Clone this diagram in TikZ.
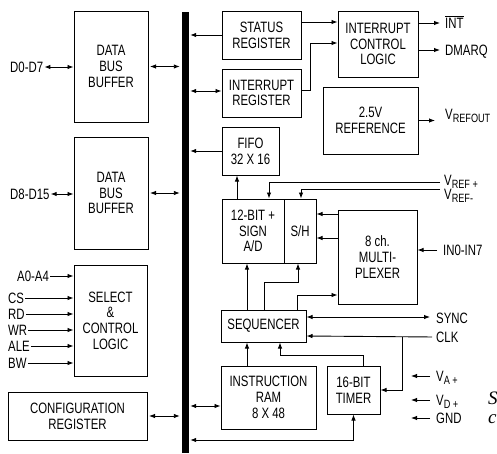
\documentclass[tikz,border=0pt]{standalone}
\usepackage{fontspec}
\setmainfont{Liberation Sans}[FakeStretch=0.76]
\newfontfamily\capfont{Liberation Serif}
\usetikzlibrary{arrows.meta}
\newcommand{\lbl}{\fontsize{15}{15.7}\selectfont}
\newcommand{\sbs}[1]{\raisebox{-0.4ex}{\fontsize{12}{12}\selectfont #1}}
\tikzset{
	blk/.style={draw, line width=1pt, inner sep=0pt, align=center, font=\lbl},
	pin/.style={inner sep=1pt, font=\lbl, text height=10pt, text depth=0pt},
	lnk/.style={line width=0.9pt, >={Latex[length=6pt,width=4.5pt]}},
}
\begin{document}
\begin{tikzpicture}[x=1pt,y=-1pt]
		\useasboundingbox (0,0) rectangle (497,453);
		\fill[white] (0,0) rectangle (497,453);
		% bus
		\node[fill=black, inner sep=0pt, minimum width=7, minimum height=441] (bus) at (185,232.5) {};

		% left side
		\node[blk, minimum width=74, minimum height=111] (bufA) at (111,66.5) {DATA\\BUS\\BUFFER};
		\node[blk, minimum width=74, minimum height=112] (bufB) at (111,193) {DATA\\BUS\\BUFFER};
		\node[blk, minimum width=73, minimum height=111] (sel) at (110.5,320.5) {SELECT\\\&\\CONTROL\\LOGIC};
		\node[blk, minimum width=139, minimum height=48] (cfg) at (77.5,416) {CONFIGURATION\\REGISTER};

		% right side
		\node[blk, minimum width=79, minimum height=48] (stat) at (261.5,35) {STATUS\\REGISTER};
		\node[blk, minimum width=79, minimum height=48] (intreg) at (261.5,93) {INTERRUPT\\REGISTER};
		\node[blk, minimum width=80, minimum height=66] (icl) at (378,44) {INTERRUPT\\CONTROL\\LOGIC};
		\node[blk, minimum width=95, minimum height=67] (ref) at (370.5,120.5) {2.5V\\REFERENCE};
		\node[blk, minimum width=57, minimum height=48] (fifo) at (250.5,151) {FIFO\\32 X 16};
		\node[blk, minimum width=62, minimum height=64] (adc) at (253,231) {12-BIT +\\SIGN\\A/D};
		\node[blk, minimum width=32, minimum height=64] (sh) at (300,231) {S/H};
		\node[blk, minimum width=79, minimum height=94] (mux) at (377.5,257) {8 ch.\\MULTI-\\PLEXER};
		\node[blk, minimum width=85, minimum height=32] (seq) at (263.5,326) {SEQUENCER};
		\node[blk, minimum width=95, minimum height=63] (ram) at (268.5,397.5) {INSTRUCTION\\RAM\\8 X 48};
		\node[blk, minimum width=53, minimum height=48] (timer) at (353.5,390) {16-BIT\\TIMER};

		% pins
		\node[pin, anchor=west] (d07) at (9,67) {D0-D7};
		\node[pin, anchor=west] (d815) at (9,194) {D8-D15};
		\node[pin, anchor=west] (a04) at (16,276) {A0-A4};
		\node[pin, anchor=west] (cs) at (7,298) {CS};
		\node[pin, anchor=west] (rd) at (7,314) {RD};
		\node[pin, anchor=west] (wr) at (7,330) {WR};
		\node[pin, anchor=west] (ale) at (7,346) {ALE};
		\node[pin, anchor=west] (bw) at (7,363) {BW};
		\node[pin, anchor=west] (int) at (444,23) {$\overline{\hbox{\lbl INT}}$};
		\node[pin, anchor=west] (dmarq) at (444,50) {DMARQ};
		\node[pin, anchor=west] (vrefout) at (444,114) {V\sbs{REFOUT}};
		\node[pin, anchor=west] (vrefp) at (443,180) {V\sbs{REF +}};
		\node[pin, anchor=west] (vrefm) at (443,194) {V\sbs{REF-}};
		\node[pin, anchor=west] (in07) at (442,250) {IN0-IN7};
		\node[pin, anchor=west] (sync) at (435,318) {SYNC};
		\node[pin, anchor=west] (clk) at (435,337) {CLK};
		\node[pin, anchor=west] (va) at (435,376) {V\sbs{A +}};
		\node[pin, anchor=west] (vd) at (435,400) {V\sbs{D +}};
		\node[pin, anchor=west] (gnd) at (435,418) {GND};

		% bus links
		\draw[lnk,<->] (d07.east) -- (bufA.west |- d07.east);
		\draw[lnk,<->] (d815.east) -- (bufB.west |- d815.east);
		\draw[lnk,<->,shorten >=1.5,shorten <=1.5] (bufA.east) -- (bufA.east -| bus.west);
		\draw[lnk,<->,shorten >=1.5,shorten <=1.5] (bufB.east) -- (bufB.east -| bus.west);
		\draw[lnk,<->,shorten >=1.5,shorten <=1.5] (cfg.east) -- (cfg.east -| bus.west);
		\draw[lnk,->,shorten >=1.5] (stat.west) -- (stat.west -| bus.east);
		\draw[lnk,<->,shorten <=1.5] (bus.east |- 0,91) -- (intreg.west |- 0,91);
		\draw[lnk,->,shorten >=1.5] (fifo.west) -- (fifo.west -| bus.east);
		\draw[lnk,<->,shorten <=1.5] (bus.east |- 0,406) -- (ram.west |- 0,406);
		\draw[lnk,<->,shorten <=1.5] (bus.east |- 0,440) -| (timer.south);

		% select inputs
		\foreach \n in {a04,cs,rd,wr,ale,bw}
			\draw[lnk,->] (\n.east) -- (sel.west |- \n.east);

		% interrupt path
		\draw[lnk,->] (stat.east |- 0,22) -- (icl.west |- 0,22);
		\draw[lnk,->] (intreg.east |- 0,90) -| (310,43) -- (icl.west |- 0,43);
		\draw[lnk,->,shorten >=4] (icl.east |- int.west) -- (int.west);
		\draw[lnk,->,shorten >=4] (icl.east |- dmarq.west) -- (dmarq.west);
		\draw[lnk,->,shorten >=9] (ref.east) -- (ref.east -| vrefout.west);

		% converter
		\draw[lnk,->] (237,0 |- adc.north) -- (237,0 |- fifo.south);
		\draw[lnk,->,shorten <=3] (vrefp.west |- 0,182) -| (269,0 |- adc.north);
		\draw[lnk,->,shorten <=3] (vrefm.west |- 0,189) -| (301,0 |- sh.north);
		\draw[lnk,->] (mux.west |- 0,214) -- (sh.east |- 0,214);
		\draw[lnk,->] (mux.west |- 0,238) -- (sh.east |- 0,238);
		\draw[lnk,->,shorten <=5] (in07.west) -- (mux.east |- in07.west);

		% sequencer
		\draw[lnk,->] (247,0 |- seq.north) -- (247,0 |- adc.south);
		\draw[lnk,->] (264,0 |- seq.north) -- (264,282) -- (298,282) -- (298,0 |- sh.south);
		\draw[lnk,->] (297,0 |- seq.north) |- (mux.west |- 0,295);
		\draw[lnk,<->,shorten >=5] (seq.east |- 0,317) -- (sync.west |- 0,317);
		\coordinate (clkj) at (402,0 |- clk.west);
		\draw[lnk,->,shorten <=3] (clk.west) -- (seq.east |- 0,336) ;
		\draw[lnk,->] (clkj) |- (timer.east);
		\draw[lnk,->] (247,0 |- ram.north) -- (247,0 |- seq.south);
		\draw[lnk,->] (363,0 |- timer.north) |- (280,355) -- (280,0 |- seq.south);

		% supplies
		\foreach \n in {va,vd,gnd}
			\draw[lnk,->] ([xshift=-5pt]\n.west) -- ++(-19,0);

		\begin{scope}
			\clip (0,0) rectangle (497,453);
			\node[inner sep=0pt, anchor=west, font=\capfont\itshape\fontsize{19}{19}\selectfont] (capS) at (488,398) {S};
			\node[inner sep=0pt, anchor=west, font=\capfont\itshape\fontsize{19}{19}\selectfont] (capC) at (488,419) {c};
		\end{scope}
\end{tikzpicture}
\end{document}
